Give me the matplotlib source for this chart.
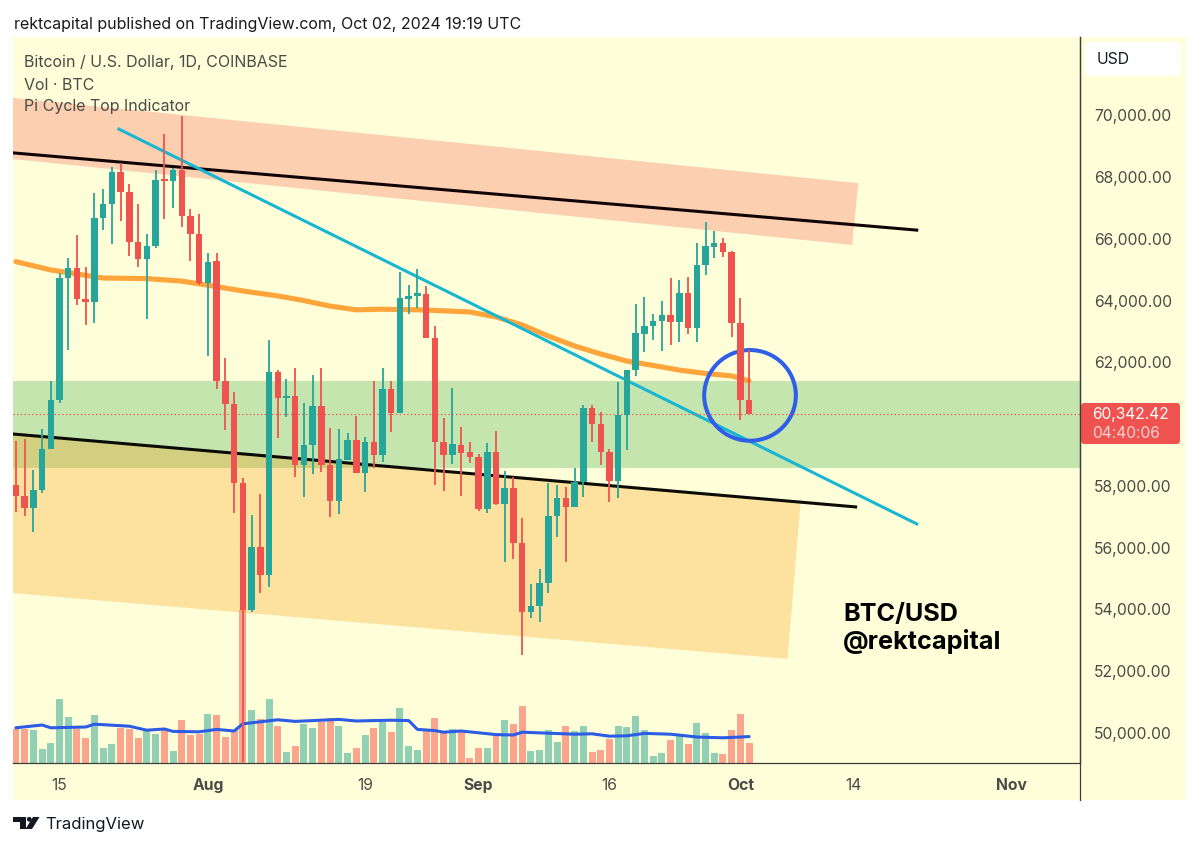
import matplotlib
matplotlib.use("Agg")
import matplotlib.pyplot as plt
from matplotlib.patches import Ellipse, FancyBboxPatch, Polygon, Circle

plt.rcParams["font.family"] = ["Inter", "DejaVu Sans"]

# Daily BTC/USD candles, 10 Jul 2024 to 2 Oct 2024 (day 0 = 10 Jul)
opens = [58030, 57670, 57300, 57870, 59190, 60780, 64740, 65050, 64060, 63950,
         66680, 67140, 68150, 67520, 65900, 65340, 65770, 67940, 67880, 68230,
         66750, 66150, 64580, 65270, 61400, 60640, 58100, 53980, 56030, 55120,
         61680, 60840, 60910, 58690, 59320, 60590, 58680, 57520, 58840, 59480,
         58410, 59430, 58990, 61140, 60350, 64050, 64150, 64210, 62800, 59410,
         59010, 59320, 59090, 58930, 57250, 59100, 57430, 57940, 56140, 53930,
         54120, 54850, 57030, 57610, 57330, 58120, 60510, 59990, 59110, 58170,
         60300, 61750, 62930, 63170, 63330, 63540, 63300, 64230, 63100, 65150,
         65740, 65850, 65580, 63280, 60770]
closes = [57680, 57300, 57870, 59190, 60780, 64740, 65050, 64060, 63950, 66680,
          67140, 68150, 67520, 65900, 65340, 65770, 67900, 67880, 68230, 66750,
          66150, 64580, 65250, 61400, 60640, 58100, 53980, 56030, 55120, 61680,
          60830, 60910, 58690, 59320, 60590, 58670, 57520, 58860, 59480, 58410,
          59430, 58990, 61140, 60350, 64070, 64150, 64230, 62800, 59410, 59000,
          59350, 59080, 58930, 57250, 59100, 57410, 57940, 56140, 53930, 54120,
          54850, 57030, 57610, 57330, 58120, 60510, 59990, 59110, 58170, 60300,
          61750, 62940, 63170, 63330, 63540, 63300, 64230, 63100, 65150, 65780,
          65850, 65580, 63280, 60770, 60342]
highs = [59460, 59510, 58520, 59840, 61400, 64900, 65390, 66120, 65100, 67490,
         67610, 68330, 68460, 67760, 67120, 66150, 68230, 69400, 68280, 69970,
         66960, 66810, 65550, 65550, 62130, 61050, 58270, 57060, 57730, 62720,
         61750, 61460, 61830, 60690, 61590, 61810, 59870, 59840, 59700, 60260,
         59590, 61410, 61830, 61400, 64930, 64500, 65010, 64470, 63190, 60210,
         61160, 59900, 59430, 59020, 59380, 59790, 58490, 58300, 56970, 54830,
         55300, 58080, 58030, 57970, 58570, 60620, 60620, 60380, 59190, 61350,
         61760, 63880, 64100, 63560, 63990, 64720, 64670, 64770, 65850, 66530,
         66260, 66040, 65600, 64090, 62400]
lows = [57150, 57030, 56520, 57760, 59190, 60670, 62400, 63860, 63210, 63280,
        66270, 65820, 66580, 65450, 65080, 63410, 65710, 66640, 67010, 66390,
        65270, 64500, 62200, 61130, 59810, 57110, 49060, 53930, 54540, 54720,
        59540, 60240, 58300, 57650, 58390, 58460, 56990, 57080, 58840, 58410,
        57790, 58570, 58780, 59750, 60350, 63560, 63770, 62800, 58020, 57850,
        58710, 57680, 58730, 57200, 57110, 57380, 55550, 55620, 52530, 53730,
        53600, 54540, 56360, 55530, 57330, 57630, 59430, 58680, 57470, 57600,
        59160, 61570, 62330, 62720, 62370, 62560, 62670, 62920, 62650, 64820,
        65390, 65420, 62830, 60130, 60342]

# Traded volume per day, thousands of BTC
volumes = [8.6, 8.6, 8.3, 3.4, 5.0, 16.1, 11.5, 8.4, 6.2, 11.9,
           3.8, 4.8, 8.8, 8.5, 6.2, 8.2, 7.3, 8.2, 3.0, 10.7,
           7.1, 7.3, 12.2, 12.1, 6.5, 8.2, 38.3, 13.2, 11.1, 16.1,
           9.3, 2.7, 4.3, 9.7, 8.8, 10.3, 11.3, 9.3, 2.5, 3.7,
           6.9, 8.7, 10.3, 7.8, 13.8, 4.2, 3.3, 7.9, 11.2, 7.8,
           8.6, 7.8, 1.3, 3.7, 3.7, 6.9, 10.8, 9.7, 14.3, 2.9,
           3.2, 8.2, 5.2, 9.2, 8.0, 9.3, 2.7, 3.3, 6.1, 9.2,
           8.9, 11.8, 8.3, 1.8, 2.5, 5.7, 6.9, 4.8, 10.0, 7.5,
           2.5, 2.3, 8.3, 12.3, 5.0]

# Volume moving average, read at selected days
vol_ma_days = [0, 3, 4, 8, 9, 13, 15, 17, 18, 21, 23, 25, 26, 30, 32, 37, 39, 43, 45,
               46, 48, 49, 51, 55, 57, 58, 64, 66, 68, 70, 72, 75, 78, 81, 84]
vol_ma_vals = [8.8, 9.5, 8.8, 9.0, 9.7, 9.2, 8.2, 8.5, 7.9, 7.8, 8.4, 8.0, 9.8, 10.8, 10.4,
               10.9, 10.5, 10.7, 10.6, 8.4, 8.1, 7.7, 8.0, 7.1, 7.0, 7.7, 7.2, 7.3, 6.7,
               6.8, 7.4, 7.2, 6.5, 6.3, 6.6]

# Long moving average of the Pi Cycle Top indicator
pi_days = [0, 4, 10, 15, 19, 23, 26, 30, 33, 36, 39, 42, 46, 48, 52, 55, 58, 61, 64, 67,
           70, 73, 76, 79, 82, 84]
pi_vals = [65260, 64990, 64730, 64710, 64630, 64450, 64310, 64150, 64000, 63820, 63700,
           63720, 63700, 63680, 63630, 63470, 63210, 62850, 62530, 62270, 62040, 61900,
           61750, 61640, 61560, 61400]

# Hand-drawn zones and trendlines: (day, price)
resistance_zone = [(-0.33, 70560), (96.5, 67800), (95.8, 65800), (-0.33, 68580)]
support_zone = [(-0.33, 59680), (89.9, 57480), (88.4, 52400), (-0.33, 54530)]
green_band = (58580, 61400)
upper_line = [(-0.33, 103.2), (68780, 66280)]
lower_line = [(-0.33, 96.2), (59680, 57320)]
cyan_line = [(11.8, 103.2), (69550, 56770)]
circle_center = (84.1, 60930)
circle_size = (10.5, 2936)

last_price = 60342.42
countdown = "04:40:06"
# 60,000 sits under the last-price badge, so it gets no label of its own
price_ticks = [50000, 52000, 54000, 56000, 58000, 62000, 64000, 66000, 68000, 70000]
date_ticks = [5, 22, 40, 53, 68, 83, 96, 114]
date_labels = ["15", "Aug", "19", "Sep", "16", "Oct", "14", "Nov"]
month_labels = {"Aug", "Sep", "Oct", "Nov"}

UP = "#26a69a"
DOWN = "#ef5350"
UP_VOL = "#92d0b6"
DOWN_VOL = "#fba58f"
PANE = "#feffd9"
TEXT = "#4a4a48"
W, H = 1200, 847


def pane_rect(left, top, right, bottom):
    return [left / W, 1 - bottom / H, (right - left) / W, (bottom - top) / H]


fig = plt.figure(figsize=(12, 8.47), dpi=100, facecolor="white")

# Page-level layer: pane background that also holds the price and time strips
page = fig.add_axes([0, 0, 1, 1], zorder=0)
page.set_xlim(0, W)
page.set_ylim(H, 0)
page.axis("off")
page.add_patch(Polygon([(13, 37), (1186, 37), (1186, 800), (13, 800)], closed=True, fc=PANE, ec="none"))

# Volume pane shares the chart's rectangle
ax_vol = fig.add_axes(pane_rect(13, 37, 1080, 763), zorder=1)
ax_vol.patch.set_alpha(0)
ax = fig.add_axes(pane_rect(13, 37, 1080, 763), zorder=2)
ax.patch.set_alpha(0)

days = list(range(len(opens)))
is_up = [c >= o for o, c in zip(opens, closes)]

ax_vol.bar(days, volumes, width=0.8, color=[UP_VOL if u else DOWN_VOL for u in is_up], zorder=2)
ax_vol.plot(vol_ma_days, vol_ma_vals, color="#2c5be6", lw=2.2, zorder=3, solid_capstyle="round")
ax_vol.set_xlim(-0.33, 121.9)
ax_vol.set_ylim(0, 181.5)
ax_vol.axis("off")

# Zones and bands
ax.axhspan(green_band[0], green_band[1], color="#4caf50", alpha=0.32, lw=0, zorder=1)
ax.add_patch(Polygon(resistance_zone, closed=True, fc="#f44336", alpha=0.25, ec="none", zorder=1.1))
ax.add_patch(Polygon(support_zone, closed=True, fc="#fb9c14", alpha=0.29, ec="none", zorder=1.2))

# Trendlines and moving average
ax.plot(pi_days, pi_vals, color="#ffa53c", lw=3.7, zorder=2, solid_capstyle="round")
ax.plot(upper_line[0], upper_line[1], color="#120404", lw=2.2, zorder=2.2)
ax.plot(lower_line[0], lower_line[1], color="#0c0c06", lw=2.2, zorder=2.2)
ax.plot(cyan_line[0], cyan_line[1], color="#18b6d2", lw=2.2, zorder=2.3)
ax.add_patch(Ellipse(circle_center, circle_size[0], circle_size[1], fc="none", ec="#2f5fe8", lw=2.9, zorder=2.4))

# Last-price marker line
ax.axhline(last_price, color=DOWN, lw=0.9, ls=(0, (1, 2)), zorder=2.5)

# Candles
colors = [UP if u else DOWN for u in is_up]
ax.vlines(days, lows, highs, colors=colors, lw=1.3, zorder=3)
ax.bar(days, [max(abs(c - o), 60) for o, c in zip(opens, closes)],
       bottom=[min(o, c) for o, c in zip(opens, closes)],
       width=0.74, color=colors, lw=0, zorder=3.1)

ax.set_xlim(-0.33, 121.9)
ax.set_ylim(49031, 72531)
for side in ("top", "left"):
    ax.spines[side].set_visible(False)
for side in ("bottom", "right"):
    ax.spines[side].set_color("#3c3c3a")
    ax.spines[side].set_linewidth(0.9)

ax.yaxis.tick_right()
ax.set_yticks(price_ticks)
ax.set_yticklabels([f"{v:,.2f}" for v in price_ticks], fontsize=11.3, color=TEXT)
ax.tick_params(axis="y", length=0, pad=10)
ax.set_xticks(date_ticks)
ax.set_xticklabels(date_labels, fontsize=11.3, color=TEXT)
ax.tick_params(axis="x", length=0, pad=11)
for lab in ax.get_xticklabels():
    if lab.get_text() in month_labels:
        lab.set_fontweight("bold")

# Foreground layer: captions, watermark, badges, logo
top = fig.add_axes([0, 0, 1, 1], zorder=3)
top.set_xlim(0, W)
top.set_ylim(H, 0)
top.axis("off")
top.patch.set_alpha(0)

top.plot([1080, 1080], [37, 800], color="#3c3c3a", lw=0.9)

top.text(14, 25, "rektcapital published on TradingView.com, Oct 02, 2024 19:19 UTC",
         fontsize=11.5, color="#1a1a1a", va="center", ha="left")
for y, caption in zip((62, 85, 107), ("Bitcoin / U.S. Dollar, 1D, COINBASE", "Vol · BTC", "Pi Cycle Top Indicator")):
    top.text(24, y, caption, fontsize=11.5, color=TEXT, va="center", ha="left")

top.text(843, 615, "BTC/USD", fontsize=18.2, fontweight="bold", color="black", va="center", ha="left")
top.text(843, 641, "@rektcapital", fontsize=18.2, fontweight="bold", color="black", va="center", ha="left")

top.add_patch(FancyBboxPatch((1085, 42), 96, 34, boxstyle="round,pad=0,rounding_size=5",
                             fc="white", ec="none"))
top.text(1097, 60, "USD", fontsize=11.3, color="#131722", va="center", ha="left")

top.add_patch(FancyBboxPatch((1081, 403), 99, 41, boxstyle="round,pad=0,rounding_size=3",
                             fc=DOWN, ec="none"))
top.text(1092, 414, f"{last_price:,.2f}", fontsize=11.2, color="white", va="center", ha="left")
top.text(1092, 433, countdown, fontsize=11.2, color="#fbd0ce", va="center", ha="left")

# TradingView mark
LOGO = "#131722"
top.add_patch(Polygon([(13, 817), (26, 817), (26, 829), (20, 829), (20, 822), (13, 822)], closed=True, fc=LOGO, ec="none"))
top.add_patch(Circle((29.3, 819.3), 2.4, fc=LOGO, ec="none"))
top.add_patch(Polygon([(33, 817), (39.5, 817), (32, 829), (25.5, 829)], closed=True, fc=LOGO, ec="none"))
top.text(45, 825, "TradingView", fontsize=12, color=LOGO, va="center", ha="left")

fig.savefig("out.png", dpi=100, facecolor="white")
